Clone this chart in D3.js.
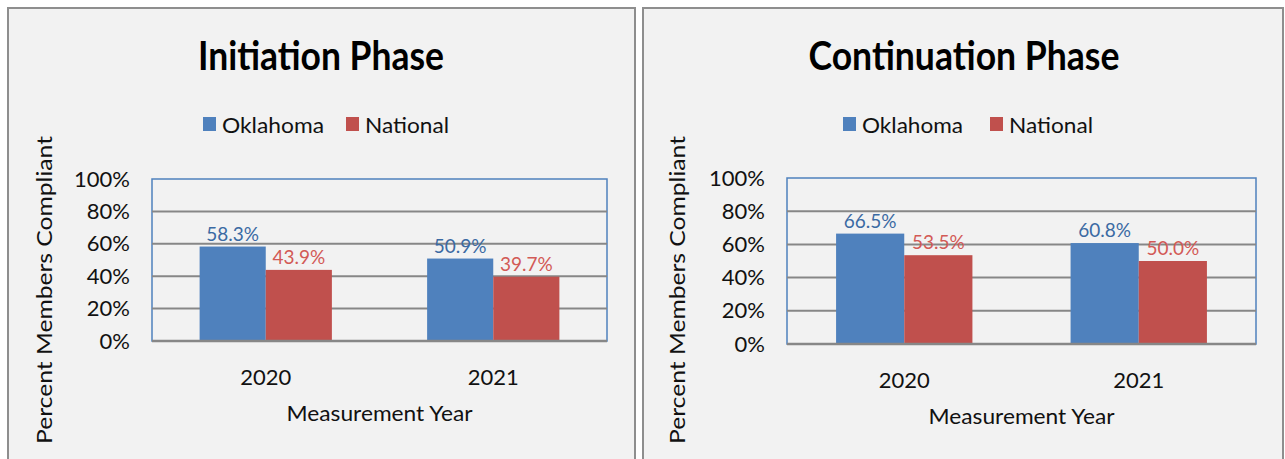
<!DOCTYPE html>
<html>
<head>
<meta charset="utf-8">
<script src="https://cdn.jsdelivr.net/npm/d3@7"></script>
<style>
    body { margin: 0; background: #ffffff; }
    svg { display: block; font-family: Lato, "Open Sans", sans-serif; }
</style>
</head>
<body>
<div id="chart-container"></div>
<script>
// chart values
var years = ["2020", "2021"];
var seriesNames = ["Oklahoma", "National"];
var seriesColors = ["#4f81bd", "#c0504d"];
var labelColors = ["#3b6aa3", "#d25a56"];
var yTicks = [0, 20, 40, 60, 80, 100];

var initiationOklahoma = [58.3, 50.9];
var initiationNational = [43.9, 39.7];
var continuationOklahoma = [66.5, 60.8];
var continuationNational = [53.5, 50.0];

var svg = d3.select("#chart-container")
    .append("svg")
    .attr("width", 1285)
    .attr("height", 459);

// stretch / squeeze text to a wanted width
function fit(sel, w) {
    sel.attr("textLength", w).attr("lengthAdjust", "spacingAndGlyphs");
}

function drawPanel(p) {
    var g = svg.append("g");

    // panel background
    g.append("rect")
        .attr("x", p.box[0])
        .attr("y", p.box[1])
        .attr("width", p.box[2])
        .attr("height", p.box[3])
        .attr("fill", "#f2f2f2")
        .attr("stroke", "#8e8e8e")
        .attr("stroke-width", 2);

    // title
    g.append("text")
        .attr("x", p.titleX)
        .attr("y", 70)
        .attr("text-anchor", "middle")
        .style("font-size", "40px")
        .style("font-weight", "bold")
        .attr("fill", "#000")
        .text(p.title)
        .call(fit, p.titleW);

    var xScale = d3.scaleBand()
        .domain(years)
        .range([p.left, p.right])
        .padding(0);

    var xSub = d3.scaleBand()
        .domain(seriesNames)
        .range([0, xScale.bandwidth()])
        .paddingInner(0)
        .paddingOuter(0.72);

    var yScale = d3.scaleLinear()
        .domain([0, 100])
        .range([p.bottom, p.top]);

    // plot area outline
    g.append("rect")
        .attr("x", p.left)
        .attr("y", p.top)
        .attr("width", p.right - p.left)
        .attr("height", p.bottom - p.top)
        .attr("fill", "#f2f2f2")
        .attr("stroke", "#4f81bd")
        .attr("stroke-width", 1.5);

    // gridlines
    g.selectAll(".grid")
        .data(yTicks.filter(function (d) { return d > 0 && d < 100; }))
        .enter()
        .append("line")
        .attr("x1", p.left)
        .attr("x2", p.right)
        .attr("y1", function (d) { return yScale(d); })
        .attr("y2", function (d) { return yScale(d); })
        .attr("stroke", "#878787")
        .attr("stroke-width", 2);

    // y axis labels
    var yAxis = g.append("g")
        .attr("transform", "translate(" + p.left + ",0)")
        .call(d3.axisLeft(yScale)
            .tickValues(yTicks)
            .tickFormat(function (d) { return d + "%"; })
            .tickSize(0)
            .tickPadding(22));
    yAxis.select(".domain").remove();
    yAxis.selectAll("text")
        .style("font-family", "Lato, 'Open Sans', sans-serif")
        .style("font-size", "22px")
        .attr("fill", "#111");

    // bars
    var rows = years.map(function (year, i) {
        return { year: year, values: [p.values[0][i], p.values[1][i]] };
    });

    var groups = g.selectAll(".year")
        .data(rows)
        .enter()
        .append("g")
        .attr("transform", function (d) { return "translate(" + xScale(d.year) + ",0)"; });

    groups.selectAll("rect")
        .data(function (d) { return d.values; })
        .enter()
        .append("rect")
        .attr("x", function (d, i) { return xSub(seriesNames[i]); })
        .attr("y", function (d) { return yScale(d); })
        .attr("width", xSub.bandwidth())
        .attr("height", function (d) { return p.bottom - yScale(d); })
        .attr("fill", function (d, i) { return seriesColors[i]; });

    groups.selectAll("text")
        .data(function (d) { return d.values; })
        .enter()
        .append("text")
        .attr("x", function (d, i) { return xSub(seriesNames[i]) + xSub.bandwidth() / 2; })
        .attr("y", function (d) { return yScale(d) - 6; })
        .attr("text-anchor", "middle")
        .style("font-size", "19px")
        .attr("fill", function (d, i) { return labelColors[i]; })
        .text(function (d) { return d.toFixed(1) + "%"; });

    // x axis line
    g.append("line")
        .attr("x1", p.left)
        .attr("x2", p.right)
        .attr("y1", p.bottom)
        .attr("y2", p.bottom)
        .attr("stroke", "#878787")
        .attr("stroke-width", 2.5);

    // x axis labels
    g.selectAll(".xlabel")
        .data(years)
        .enter()
        .append("text")
        .attr("x", function (d) { return xScale(d) + xScale.bandwidth() / 2; })
        .attr("y", p.bottom + 44)
        .attr("text-anchor", "middle")
        .style("font-size", "22px")
        .attr("fill", "#111")
        .text(function (d) { return d; });

    // x axis title
    g.append("text")
        .attr("x", (p.left + p.right) / 2)
        .attr("y", p.bottom + 80)
        .attr("text-anchor", "middle")
        .style("font-size", "22px")
        .attr("fill", "#111")
        .text("Measurement Year")
        .call(fit, 186);

    // y axis title
    g.append("text")
        .attr("transform", "translate(" + p.yTitleX + ",290) rotate(-90)")
        .attr("text-anchor", "middle")
        .attr("dy", "0.35em")
        .style("font-size", "22px")
        .attr("fill", "#111")
        .text("Percent Members Compliant")
        .call(fit, 308);

    // legend
    var legend = g.selectAll(".legend")
        .data(seriesNames)
        .enter()
        .append("g")
        .attr("transform", function (d, i) { return "translate(" + p.legendX[i] + ",0)"; });

    legend.append("rect")
        .attr("x", 0)
        .attr("y", 117)
        .attr("width", 13)
        .attr("height", 14)
        .attr("fill", function (d, i) { return seriesColors[i]; });

    legend.append("text")
        .attr("x", 19)
        .attr("y", 133)
        .style("font-size", "22px")
        .attr("fill", "#111")
        .text(function (d) { return d; })
        .each(function (d, i) { d3.select(this).call(fit, p.legendW[i]); });
}

drawPanel({
    box: [8, 8, 627, 470],
    title: "Initiation Phase",
    titleX: 321,
    titleW: 246,
    left: 152, right: 607, top: 179, bottom: 341,
    yTitleX: 44,
    legendX: [203, 346],
    legendW: [102, 84],
    values: [initiationOklahoma, initiationNational]
});

drawPanel({
    box: [643, 8, 640, 470],
    title: "Continuation Phase",
    titleX: 964,
    titleW: 311,
    left: 787, right: 1256, top: 178, bottom: 344,
    yTitleX: 677,
    legendX: [843, 990],
    legendW: [101, 84],
    values: [continuationOklahoma, continuationNational]
});
</script>
</body>
</html>
